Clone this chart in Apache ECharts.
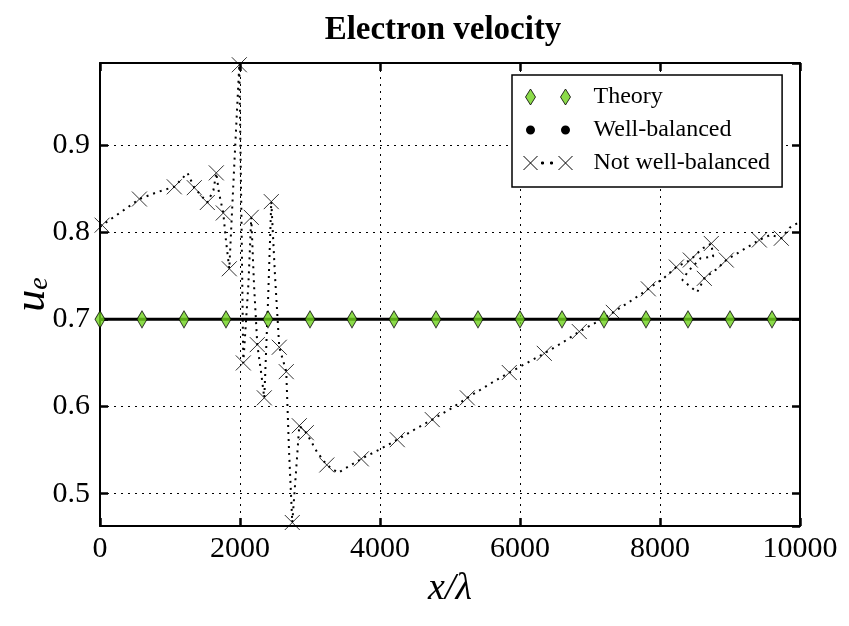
<!DOCTYPE html>
<html>
<head>
<meta charset="utf-8">
<script src="https://cdn.jsdelivr.net/npm/echarts@6/dist/echarts.min.js"></script>
<style>
html, body { margin: 0; padding: 0; background: #fff; }
#chart { width: 849px; height: 626px; }
</style>
</head>
<body>
<div id="chart"></div>
<script>
var FONT = "Liberation Serif";

// Theory: diamonds every 600
var theoryX = [0, 600, 1200, 1800, 2400, 3000, 3600, 4200, 4800, 5400, 6000, 6600, 7200, 7800, 8400, 9000, 9600];
var theoryY = [0.7, 0.7, 0.7, 0.7, 0.7, 0.7, 0.7, 0.7, 0.7, 0.7, 0.7, 0.7, 0.7, 0.7, 0.7, 0.7, 0.7];

// Well-balanced: flat at 0.7 over the whole range
var wbX = [0, 600, 1200, 1800, 2400, 3000, 3600, 4200, 4800, 5400, 6000, 6600, 7200, 7800, 8400, 9000, 9600, 10000];
var wbY = [0.7, 0.7, 0.7, 0.7, 0.7, 0.7, 0.7, 0.7, 0.7, 0.7, 0.7, 0.7, 0.7, 0.7, 0.7, 0.7, 0.7, 0.7];

// Not well-balanced: dotted path (in drawing order, x goes back and forth)
var nwbPathX = [0, 30, 300, 563, 820, 1061, 1250, 1347, 1533, 1620, 1661, 1700, 1761, 1800, 1847, 1920, 1990, 2020, 2047,
    2120, 2161, 2200, 2247, 2300, 2347, 2400, 2447, 2500, 2561, 2661, 2700, 2747, 2800, 2847, 2947, 3100, 3240, 3400,
    3733, 4000, 4247, 4500, 4747, 5000, 5247, 5550, 5847, 6100, 6347, 6600, 6847, 7100, 7333, 7600, 7833, 8050, 8233,
    8433, 8600, 8733, 8760, 8580, 8400, 8320, 8530, 8633, 8800, 8947, 9150, 9419, 9580, 9733, 9850, 10000];
var nwbPathY = [0.806, 0.808, 0.823, 0.838, 0.846, 0.852, 0.868, 0.851, 0.834, 0.848, 0.868, 0.845, 0.822, 0.79, 0.758, 0.88, 0.992, 0.82, 0.65,
    0.74, 0.817, 0.74, 0.671, 0.64, 0.61, 0.72, 0.835, 0.75, 0.668, 0.64, 0.55, 0.467, 0.525, 0.578, 0.57, 0.548, 0.533, 0.524,
    0.54, 0.551, 0.562, 0.574, 0.585, 0.597, 0.61, 0.625, 0.639, 0.65, 0.661, 0.673, 0.686, 0.697, 0.708, 0.722, 0.735, 0.747, 0.76,
    0.768, 0.781, 0.787, 0.772, 0.77, 0.755, 0.745, 0.731, 0.747, 0.757, 0.768, 0.778, 0.791, 0.797, 0.793, 0.805, 0.812];

// × markers on the not well-balanced run
var nwbMarkX = [30, 563, 1061, 1347, 1533, 1661, 1761, 1847, 1990, 2047, 2161, 2247, 2347, 2447, 2561, 2661, 2747, 2847, 2947,
    3240, 3733, 4247, 4747, 5247, 5847, 6347, 6847, 7333, 7833, 8233, 8433, 8633, 8733, 8947, 9419, 9733];
var nwbMarkY = [0.808, 0.838, 0.852, 0.851, 0.834, 0.868, 0.822, 0.758, 0.992, 0.65, 0.817, 0.671, 0.61, 0.835, 0.668, 0.64, 0.467, 0.578, 0.57,
    0.533, 0.54, 0.562, 0.585, 0.61, 0.639, 0.661, 0.686, 0.708, 0.735, 0.76, 0.768, 0.747, 0.787, 0.768, 0.791, 0.793];

var xTicks = [0, 2000, 4000, 6000, 8000, 10000];

function zip(xs, ys) {
    return xs.map(function (x, i) { return [x, ys[i]]; });
}

var GREEN = "#6fd21d";
var CROSS = "path://M0,0L10,10M10,0L0,10";

// legend icons: drawn in a 65x16 box, the first two moves only fix the bounding box
var iconTheory = "path://M0,0M65,16M2,8L7,0L12,8L7,16ZM37,8L42,0L47,8L42,16Z";
var iconWb = "path://M0,0M65,16M2.5,8A4.5,4.5,0,1,0,11.5,8A4.5,4.5,0,1,0,2.5,8ZM37.5,8A4.5,4.5,0,1,0,46.5,8A4.5,4.5,0,1,0,37.5,8Z";
var iconNwb = "path://M0,0M65,16M0,1L14,15M14,1L0,15M35,1L49,15M49,1L35,15M18,7L20,7L20,9L18,9ZM27,7L29,7L29,9L27,9Z";

var frameLine = { show: true, onZero: false, lineStyle: { color: "#000", width: 2 } };
var innerTick = { show: true, inside: true, length: 8, lineStyle: { color: "#000", width: 2.5 } };
var gridDots = { show: true, lineStyle: { color: "#000", width: 1, type: [2, 5] } };

var chart = echarts.init(document.getElementById("chart"));

var option = {
    backgroundColor: "#fff",
    animation: false,
    title: {
        text: "Electron velocity",
        left: 438,
        top: 9,
        textAlign: "center",
        textStyle: { fontFamily: FONT, fontWeight: "bold", fontSize: 33, color: "#000" }
    },
    grid: { left: 100, right: 49, top: 63, bottom: 100, containLabel: false, outerBoundsMode: "none" },
    legend: {
        orient: "vertical",
        left: 512,
        top: 75,
        padding: [9, 12, 11, 11],
        itemGap: 7,
        itemWidth: 65,
        itemHeight: 16,
        backgroundColor: "#fff",
        borderColor: "#000",
        borderWidth: 1.5,
        borderRadius: 0,
        selectedMode: false,
        textStyle: { fontFamily: FONT, fontSize: 24, color: "#000", lineHeight: 26 },
        data: [
            { name: "Theory", icon: iconTheory, itemStyle: { color: GREEN, borderColor: "#000", borderWidth: 1 } },
            { name: "Well-balanced", icon: iconWb, itemStyle: { color: "#000", borderColor: "#000", borderWidth: 0 } },
            { name: "Not well-balanced", icon: iconNwb, itemStyle: { color: "#000", borderColor: "#000", borderWidth: 1 } }
        ]
    },
    xAxis: [
        {
            type: "value",
            position: "bottom",
            min: xTicks[0],
            max: xTicks[xTicks.length - 1],
            interval: 2000,
            axisLine: frameLine,
            axisTick: innerTick,
            splitLine: gridDots,
            axisLabel: {
                color: "#000", fontFamily: FONT, fontSize: 30, margin: 8,
                formatter: function (v) { return String(v); }
            },
            name: "x/λ",
            nameLocation: "middle",
            nameGap: 44,
            nameTextStyle: { fontFamily: FONT, fontStyle: "italic", fontSize: 38, color: "#000" }
        },
        {
            type: "value",
            position: "top",
            min: xTicks[0],
            max: xTicks[xTicks.length - 1],
            interval: 2000,
            axisLine: frameLine,
            axisTick: innerTick,
            splitLine: { show: false },
            axisLabel: { show: false }
        }
    ],
    yAxis: [
        {
            type: "value",
            position: "left",
            min: 0.463,
            max: 0.994,
            splitNumber: 5,
            minInterval: 0.1,
            maxInterval: 0.1,
            axisLine: frameLine,
            axisTick: innerTick,
            splitLine: gridDots,
            axisLabel: {
                color: "#000", fontFamily: FONT, fontSize: 30, margin: 10,
                showMinLabel: false, showMaxLabel: false,
                formatter: function (v) {
                    return Math.abs(v * 10 - Math.round(v * 10)) < 1e-6 ? v.toFixed(1) : "";
                }
            },
            name: "{u|u}{e|e}",
            nameLocation: "middle",
            nameGap: 46,
            nameMoveOverlap: false,
            nameTextStyle: {
                rich: {
                    u: { fontFamily: FONT, fontStyle: "italic", fontSize: 44, color: "#000" },
                    e: { fontFamily: FONT, fontStyle: "italic", fontSize: 28, color: "#000", verticalAlign: "bottom", padding: [14, 0, 0, 0] }
                }
            }
        },
        {
            type: "value",
            position: "right",
            min: 0.463,
            max: 0.994,
            splitNumber: 5,
            minInterval: 0.1,
            maxInterval: 0.1,
            axisLine: frameLine,
            axisTick: innerTick,
            splitLine: { show: false },
            axisLabel: { show: false }
        }
    ],
    series: [
        {
            name: "Not well-balanced",
            type: "line",
            data: zip(nwbPathX, nwbPathY),
            showSymbol: false,
            itemStyle: { color: "#000" },
            lineStyle: { color: "#000", width: 2, type: [2, 5] },
            z: 2
        },
        {
            name: "Not well-balanced",
            type: "scatter",
            data: zip(nwbMarkX, nwbMarkY),
            symbol: CROSS,
            symbolSize: 15,
            itemStyle: { color: "#000", borderColor: "#000", borderWidth: 1 },
            z: 3
        },
        {
            name: "Well-balanced",
            type: "line",
            data: zip(wbX, wbY),
            showSymbol: false,
            itemStyle: { color: "#000" },
            lineStyle: { color: "#000", width: 3 },
            z: 4
        },
        {
            name: "Theory",
            type: "scatter",
            data: zip(theoryX, theoryY),
            symbol: "diamond",
            symbolSize: [10, 17],
            itemStyle: { color: GREEN, borderColor: "#000", borderWidth: 1 },
            z: 5
        }
    ]
};

chart.setOption(option);
</script>
</body>
</html>
